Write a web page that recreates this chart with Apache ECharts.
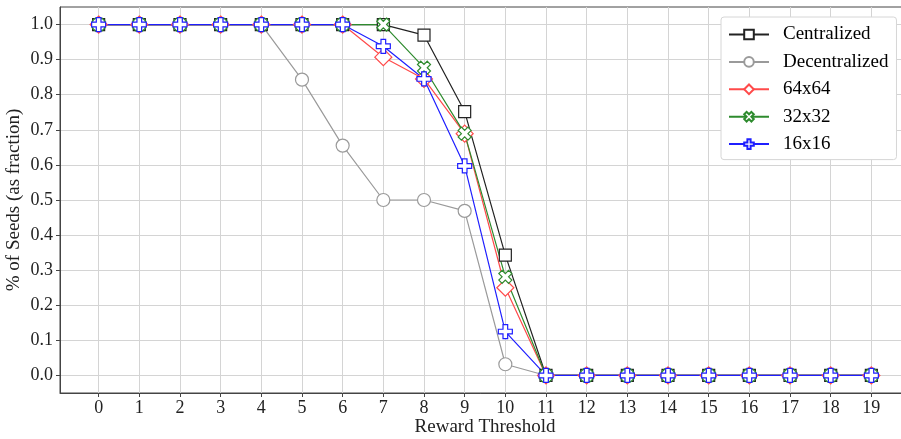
<!DOCTYPE html>
<html>
<head>
<meta charset="utf-8">
<script src="https://cdn.jsdelivr.net/npm/echarts@6/dist/echarts.min.js"></script>
<style>
  html, body { margin: 0; padding: 0; background: #fff; }
  #chart { width: 901px; height: 439px; }
</style>
</head>
<body>
<div id="chart"></div>
<script>
// Reward thresholds on the x axis
const thresholds = [0,1,2,3,4,5,6,7,8,9,10,11,12,13,14,15,16,17,18,19];
const yTicks = [0,0.1,0.2,0.3,0.4,0.5,0.6,0.7,0.8,0.9,1.0];

// Fraction of seeds reaching each threshold
const centralized   = [1,1,1,1,1,1,1,1,0.97,0.752,0.343,0,0,0,0,0,0,0,0,0];
const decentralized = [1,1,1,1,1,0.843,0.655,0.5,0.5,0.469,0.032,0,0,0,0,0,0,0,0,0];
const grid64        = [1,1,1,1,1,1,1,0.907,0.845,0.689,0.25,0,0,0,0,0,0,0,0,0];
const grid32        = [1,1,1,1,1,1,1,1,0.877,0.689,0.281,0,0,0,0,0,0,0,0,0];
const grid16        = [1,1,1,1,1,1,1,0.938,0.845,0.597,0.125,0,0,0,0,0,0,0,0,0];

const seriesNames = ['Centralized','Decentralized','64x64','32x32','16x16'];

const plusPath = 'path://M1,0H2V1H3V2H2V3H1V2H0V1H1Z';
const xPath = 'path://M2.121,0L2.828,0.707L2.121,1.414L2.828,2.121L2.121,2.828L1.414,2.121L0.707,2.828L0,2.121L0.707,1.414L0,0.707L0.707,0L1.414,0.707Z';

const FONT = '"Liberation Serif", "Times New Roman", serif';

function makeSeries(name, values, color, symbol, size) {
  return {
    name: name,
    type: 'line',
    data: values.map((v, i) => [thresholds[i], v]),
    symbol: symbol,
    symbolSize: size,
    showAllSymbol: true,
    lineStyle: { color: color, width: 1.2 },
    itemStyle: { color: '#fff', borderColor: color, borderWidth: 1.2 },
    emphasis: { disabled: true },
    animation: false
  };
}

const chart = echarts.init(document.getElementById('chart'), null, { renderer: 'canvas' });
chart.setOption({
  animation: false,
  backgroundColor: '#fff',
  grid: {
    left: 60, right: -9, top: 7, bottom: 46,
    containLabel: false,
    outerBoundsMode: 'none',
    show: true, borderColor: '#444', borderWidth: 1, backgroundColor: 'transparent'
  },
  legend: {
    left: 721, top: 17,
    orient: 'vertical',
    itemWidth: 40, itemHeight: 12, itemGap: 8.4,
    padding: [8, 8, 6, 7],
    backgroundColor: '#fff',
    borderColor: '#d6d6d6', borderWidth: 1, borderRadius: 3,
    textStyle: { fontFamily: FONT, fontSize: 19, color: '#000', padding: [0, 0, 0, 9] },
    data: seriesNames
  },
  xAxis: {
    type: 'value',
    min: -0.95, max: 19.95,
    name: 'Reward Threshold',
    nameLocation: 'middle',
    nameGap: 25,
    nameMoveOverlap: false,
    nameTextStyle: { fontFamily: FONT, fontSize: 19, color: '#222' },
    axisLine: { show: true, onZero: false, lineStyle: { color: '#444' } },
    axisTick: { show: true, length: 4, customValues: thresholds, lineStyle: { color: '#444' } },
    axisLabel: { customValues: thresholds, fontFamily: FONT, fontSize: 18, color: '#222', margin: 6 },
    splitLine: { show: true, lineStyle: { color: '#d4d4d4', width: 1 } }
  },
  yAxis: {
    type: 'value',
    min: -0.05, max: 1.05,
    name: '% of Seeds (as fraction)',
    nameLocation: 'middle',
    nameGap: 36,
    nameMoveOverlap: false,
    nameTextStyle: { fontFamily: FONT, fontSize: 19, color: '#222' },
    axisLine: { show: true, onZero: false, lineStyle: { color: '#444' } },
    axisTick: { show: true, length: 4, customValues: yTicks, lineStyle: { color: '#444' } },
    axisLabel: {
      customValues: yTicks, fontFamily: FONT, fontSize: 18, color: '#222', margin: 7,
      formatter: v => v.toFixed(1)
    },
    splitLine: { show: true, lineStyle: { color: '#d4d4d4', width: 1 } }
  },
  series: [
    makeSeries(seriesNames[0], centralized, '#222222', 'rect', 12),
    makeSeries(seriesNames[1], decentralized, '#9a9a9a', 'circle', 13),
    makeSeries(seriesNames[2], grid64, '#ff4a4a', 'diamond', 17),
    makeSeries(seriesNames[3], grid32, '#2e8b2e', xPath, 13),
    makeSeries(seriesNames[4], grid16, '#1f1fff', plusPath, 14)
  ]
});
</script>
</body>
</html>
